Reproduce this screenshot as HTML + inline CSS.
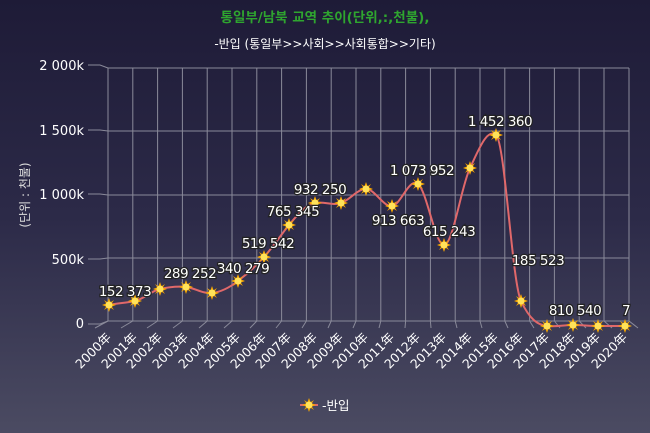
<!DOCTYPE html>
<html><head><meta charset="utf-8"><style>
html,body{margin:0;padding:0;}
body{width:650px;height:433px;overflow:hidden;background:linear-gradient(#1e1b37,#2c2a48 50%,#4b4b62);}
svg{display:block;font-family:"DejaVu Sans","Noto Sans CJK KR",sans-serif;}
.lb{fill:#fff;stroke:#222;stroke-width:2.5;paint-order:stroke;font-size:13.5px;text-anchor:middle;letter-spacing:-0.5px;}
.xl{fill:#fff;font-size:12.5px;text-anchor:end;}
</style></head><body>
<svg width="650" height="433" viewBox="0 0 650 433">
<defs>
<g id="m"><polygon points="0,-7 1.6,-2.8 5,-5 2.8,-1.6 7,0 2.8,1.6 5,5 1.6,2.8 0,7 -1.6,2.8 -5,5 -2.8,1.6 -7,0 -2.8,-1.6 -5,-5 -1.6,-2.8" fill="#f5a500"/><circle r="3.5" fill="#ffe25a"/></g>
</defs>
<text x="325" y="22" fill="#2fa52f" font-size="13.5" font-weight="bold" text-anchor="middle">통일부/남북 교역 추이(단위,:,천불),</text>
<text x="325" y="48" fill="#fff" font-size="12" text-anchor="middle">-반입 (통일부&gt;&gt;사회&gt;&gt;사회통합&gt;&gt;기타)</text>
<g stroke="#8a8a9a" stroke-width="1" fill="none">
<path d="M108,68H629M108,131H629M108,195H629M108,258H629M108,321H629"/>
<path d="M88,65H100L108,68M88,130H100L108,131M88,194H100L108,195M88,259H100L108,258M88,324H100L108,321"/>
<path d="M108,68V321M132.8,68V321M157.6,68V321M182.4,68V321M207.2,68V321M232,68V321M256.8,68V321M281.6,68V321M306.4,68V321M331.2,68V321M356,68V321M380.8,68V321M405.6,68V321M430.4,68V321M455.2,68V321M480,68V321M504.8,68V321M529.6,68V321M554.4,68V321M579.2,68V321M604,68V321M629,68V321"/>
<path d="M95,328L108,321M121,328L132.8,321M147,328L157.6,321M173,328L182.4,321M199,328L207.2,321M224,328L232,321M250,328L256.8,321M276,328L281.6,321M302,328L306.4,321M328,328L331.2,321M353,328L356,321M379,328L380.8,321M405,328L405.6,321M431,328L430.4,321M457,328L455.2,321M482,328L480,321M508,328L504.8,321M534,328L529.6,321M560,328L554.4,321M586,328L579.2,321M612,328L604,321M638,328L629,321"/>
</g>
<g fill="#fff" font-size="13" text-anchor="end">
<text x="84" y="70">2 000k</text><text x="84" y="135">1 500k</text><text x="84" y="199">1 000k</text><text x="84" y="264">500k</text><text x="84" y="328">0</text>
</g>
<text transform="translate(29,195) rotate(-90)" fill="#ddd" font-size="12" text-anchor="middle">(단위 : 천불)</text>
<path fill="none" stroke="#e0686a" stroke-width="2" d="M109,305 C118,303 126,303 135,301 C144,299 151,291 160,289 C169,287 177,286 186,287 C195,288 203,294 212,293 C221,292 229,288 238,281 C247,274 255,267 264,257 C273,247 280,236 289,225 C298,214 306,205 315,203 C324,201 332,206 341,203 C350,200 357,189 366,189 C375,189 383,207 392,206 C401,205 409,177 418,184 C427,191 435,245 444,245 C453,245 461,187 470,168 C479,149 487,128 496,135 C505,142 512,282 521,301 C530,320 538,325 547,326 C556,327 564,325 573,325 C582,325 589,326 598,326 C607,326 616,326 625,326"/>
<g>
<use href="#m" x="109" y="305"/><use href="#m" x="135" y="301"/><use href="#m" x="160" y="289"/><use href="#m" x="186" y="287"/><use href="#m" x="212" y="293"/><use href="#m" x="238" y="281"/><use href="#m" x="264" y="257"/><use href="#m" x="289" y="225"/><use href="#m" x="315" y="203"/><use href="#m" x="341" y="203"/><use href="#m" x="366" y="189"/><use href="#m" x="392" y="206"/><use href="#m" x="418" y="184"/><use href="#m" x="444" y="245"/><use href="#m" x="470" y="168"/><use href="#m" x="496" y="135"/><use href="#m" x="521" y="301"/><use href="#m" x="547" y="326"/><use href="#m" x="573" y="325"/><use href="#m" x="598" y="326"/><use href="#m" x="625" y="326"/>
</g>
<g class="lb">
<text x="125" y="296">152 373</text><text x="190" y="278">289 252</text><text x="243" y="273">340 279</text><text x="268" y="248">519 542</text><text x="293" y="216">765 345</text><text x="320" y="194">932 250</text><text x="398" y="225">913 663</text><text x="422" y="175">1 073 952</text><text x="449" y="236">615 243</text><text x="500" y="126">1 452 360</text><text x="538" y="265">185 523</text><text x="575" y="315">810 540</text><text x="626" y="315">7</text>
</g>
<g class="xl">
<text transform="translate(112,338) rotate(-45)">2000年</text><text transform="translate(138,338) rotate(-45)">2001年</text><text transform="translate(163,338) rotate(-45)">2002年</text><text transform="translate(189,338) rotate(-45)">2003年</text><text transform="translate(215,338) rotate(-45)">2004年</text><text transform="translate(241,338) rotate(-45)">2005年</text><text transform="translate(267,338) rotate(-45)">2006年</text><text transform="translate(292,338) rotate(-45)">2007年</text><text transform="translate(318,338) rotate(-45)">2008年</text><text transform="translate(344,338) rotate(-45)">2009年</text><text transform="translate(369,338) rotate(-45)">2010年</text><text transform="translate(395,338) rotate(-45)">2011年</text><text transform="translate(421,338) rotate(-45)">2012年</text><text transform="translate(447,338) rotate(-45)">2013年</text><text transform="translate(473,338) rotate(-45)">2014年</text><text transform="translate(499,338) rotate(-45)">2015年</text><text transform="translate(524,338) rotate(-45)">2016年</text><text transform="translate(550,338) rotate(-45)">2017年</text><text transform="translate(576,338) rotate(-45)">2018年</text><text transform="translate(601,338) rotate(-45)">2019年</text><text transform="translate(628,338) rotate(-45)">2020年</text>
</g>
<line x1="300" y1="405" x2="318" y2="405" stroke="#e0686a" stroke-width="2"/>
<use href="#m" x="309" y="405"/>
<text x="322" y="410" fill="#fff" font-size="12.5">-반입</text>
</svg>
</body></html>
